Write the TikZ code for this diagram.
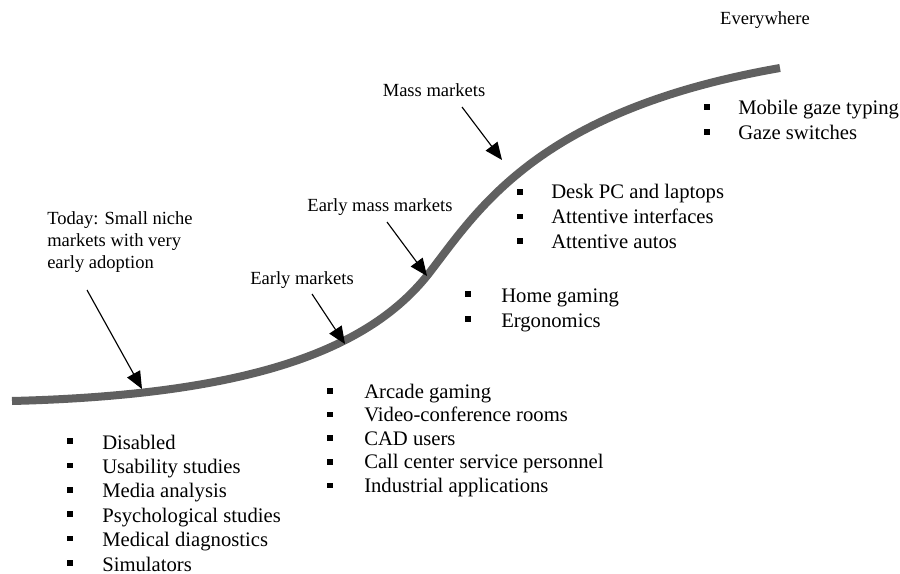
\documentclass[tikz,border=0pt]{standalone}
\usepackage{fontspec}
\setmainfont{Liberation Serif}
\usetikzlibrary{arrows.meta}
\definecolor{curvegray}{HTML}{606060}
\begin{document}
\begin{tikzpicture}[x=0.75pt,y=-0.75pt,
  adoption/.style={line width=6pt,draw=curvegray},
  pointer/.style={line width=0.85pt,-{Triangle[length=13pt,width=11pt]}},
  lbl/.style={font=\fontsize{13.9}{16.5}\selectfont,inner sep=0pt},
  item/.style={font=\fontsize{15.5}{18}\selectfont,inner sep=0pt,anchor=base west},
  bul/.style={fill=black,minimum size=4.2pt,inner sep=0pt}]
\useasboundingbox[fill=white] (0,0) rectangle (900,574);

% S-shaped adoption curve
\draw[adoption] (12,401) .. controls (250,395) and (370,350) .. (430,272)
  .. controls (480,207) and (540,110) .. (780,68);

% labels
\node[lbl,anchor=north west,align=left] (today) at (47,211)
  {Today: Small niche\\markets with very\\early adoption};
\node[lbl,anchor=base] (early) at (302,284) {Early markets};
\node[lbl,anchor=base] (earlymass) at (380,212) {Early mass markets};
\node[lbl,anchor=base] (mass) at (434,97) {Mass markets};
\node[lbl,anchor=base] (everywhere) at (765,25) {Everywhere};

% pointers onto the curve
\coordinate (todayS) at (87,290);   \coordinate (todayE) at (142,389);
\coordinate (earlyS) at (312,294);  \coordinate (earlyE) at (345,344);
\coordinate (emS) at (387,222);     \coordinate (emE) at (427,276);
\coordinate (massS) at (462,107);   \coordinate (massE) at (502,160);
\draw[pointer] (todayS) -- (todayE);
\draw[pointer] (earlyS) -- (earlyE);
\draw[pointer] (emS) -- (emE);
\draw[pointer] (massS) -- (massE);

% bullet lists
\foreach \t [count=\i from 0] in {Disabled,Usability studies,Media analysis,
    Psychological studies,Medical diagnostics,Simulators}{
  \node[bul] (ba\i) at (70,{441+24.4*\i}) {};
  \node[item] (ta\i) at (102,{449+24.4*\i}) {\t};}
\foreach \t [count=\i from 0] in {Arcade gaming,Video-conference rooms,CAD users,
    Call center service personnel,Industrial applications}{
  \node[bul] (bb\i) at (330,{391+23.6*\i}) {};
  \node[item] (tb\i) at (364,{398+23.6*\i}) {\t};}
\foreach \t [count=\i from 0] in {Home gaming,Ergonomics}{
  \node[bul] (bc\i) at (468,{294+25*\i}) {};
  \node[item] (tc\i) at (501,{302+25*\i}) {\t};}
\foreach \t [count=\i from 0] in {Desk PC and laptops,Attentive interfaces,Attentive autos}{
  \node[bul] (bd\i) at (520,{192+24.5*\i}) {};
  \node[item] (td\i) at (551,{199+24.5*\i}) {\t};}
\foreach \t [count=\i from 0] in {Mobile gaze typing,Gaze switches}{
  \node[bul] (be\i) at (707,{107+25*\i}) {};
  \node[item] (te\i) at (738,{115+25*\i}) {\t};}
\end{tikzpicture}
\end{document}
